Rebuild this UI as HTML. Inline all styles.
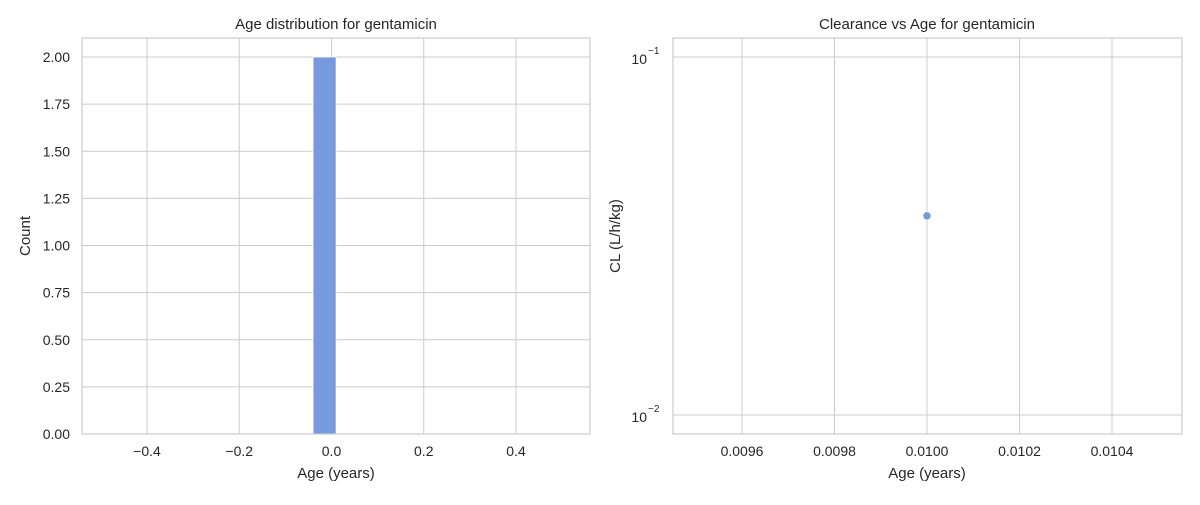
<!DOCTYPE html>
<html><head><meta charset="utf-8">
<style>
body{margin:0;background:#fff;}
svg text{font-family:"Liberation Sans",Arial,sans-serif;fill:#262626;}
</style></head>
<body>
<svg id="chart" width="1200" height="500" xmlns="http://www.w3.org/2000/svg">
<g id="left"></g>
<g id="right"></g>
</svg>
<script>
const histBinEdges = [[-0.04, 0.01]];
const histCounts = [2];
const histXTicks = [-0.4, -0.2, 0.0, 0.2, 0.4];
const histYTicks = [0, 0.25, 0.5, 0.75, 1.0, 1.25, 1.5, 1.75, 2.0];
const scatterAges = [0.01];
const scatterCL = [0.036];
const scatterXTicks = [0.0096, 0.0098, 0.0100, 0.0102, 0.0104];
const scatterYTicks = [-2, -1];

const NS = "http://www.w3.org/2000/svg";
function mk(parent, tag, attrs, text){
  const e = document.createElementNS(NS, tag);
  for (const k in attrs) e.setAttribute(k, attrs[k]);
  if (text !== undefined) e.textContent = text;
  parent.appendChild(e);
  return e;
}
const T = 38, B = 434;
const TICK = 14, LAB = 15;

// Left panel
const L = document.getElementById('left');
const lx = v => 331.5 + v * 461.25;
const ly = v => 434 - v * 188.5;
histXTicks.forEach(t => {
  const g = mk(L, 'line', {x1:lx(t), x2:lx(t), y1:T, y2:B, stroke:'#cccccc', 'stroke-width':1});
  
  
  const tx = mk(L, 'text', {x:lx(t), y:456, 'text-anchor':'middle', 'font-size':TICK}, t.toFixed(1).replace('-', '\u2212'));
  
  
});
histYTicks.forEach(t => {
  const g = mk(L, 'line', {x1:82, x2:590, y1:ly(t), y2:ly(t), stroke:'#cccccc', 'stroke-width':1});
  
  
  const tx = mk(L, 'text', {x:70, y:ly(t)+5, 'text-anchor':'end', 'font-size':TICK}, t.toFixed(2));
  
  
});
histCounts.forEach((c, i) => {
  const [a, b] = histBinEdges[i];
  const r = mk(L, 'rect', {x:lx(a), y:ly(c), width:lx(b)-lx(a), height:ly(0)-ly(c), fill:'#7799dd', stroke:'#ffffff', 'stroke-width':0.8});
  
  
});
mk(L, 'rect', {x:82, y:T, width:508, height:B-T, fill:'none', stroke:'#cccccc', 'stroke-width':1.2,  });
mk(L, 'text', {x:336, y:29, 'text-anchor':'middle', 'font-size':LAB,  }, 'Age distribution for gentamicin');
mk(L, 'text', {x:336, y:478, 'text-anchor':'middle', 'font-size':LAB,  }, 'Age (years)');
mk(L, 'text', {x:30, y:236, 'text-anchor':'middle', 'font-size':LAB, transform:'rotate(-90 30 236)',  }, 'Count');

// Right panel
const R = document.getElementById('right');
const rx = v => 927 + (v - 0.0100) * 185 / 0.0004;
const ry = v => 57 - (Math.log10(v) + 1) * 358;
scatterXTicks.forEach(t => {
  const g = mk(R, 'line', {x1:rx(t), x2:rx(t), y1:T, y2:B, stroke:'#cccccc', 'stroke-width':1});
  
  
  const tx = mk(R, 'text', {x:rx(t), y:456, 'text-anchor':'middle', 'font-size':TICK}, t.toFixed(4));
  
  
});
scatterYTicks.forEach(p => {
  const y = ry(Math.pow(10, p));
  const g = mk(R, 'line', {x1:673, x2:1182, y1:y, y2:y, stroke:'#cccccc', 'stroke-width':1});
  
  
  const tx = mk(R, 'text', {x:647, y:y+7, 'text-anchor':'end', 'font-size':TICK}, '10');
  
  
  const sp = mk(R, 'text', {x:648, y:y-3, 'text-anchor':'start', 'font-size':10}, '\u2212' + Math.abs(p));
  
  
});
scatterAges.forEach((a, i) => {
  const c = mk(R, 'circle', {cx:rx(a), cy:ry(scatterCL[i]), r:4, fill:'#7799dd', stroke:'#ffffff', 'stroke-width':0.5});
  
  
});
mk(R, 'rect', {x:673, y:T, width:509, height:B-T, fill:'none', stroke:'#cccccc', 'stroke-width':1.2,  });
mk(R, 'text', {x:927, y:29, 'text-anchor':'middle', 'font-size':LAB,  }, 'Clearance vs Age for gentamicin');
mk(R, 'text', {x:927, y:478, 'text-anchor':'middle', 'font-size':LAB,  }, 'Age (years)');
mk(R, 'text', {x:620, y:236, 'text-anchor':'middle', 'font-size':LAB, transform:'rotate(-90 620 236)',  }, 'CL (L/h/kg)');
</script>
</body></html>
